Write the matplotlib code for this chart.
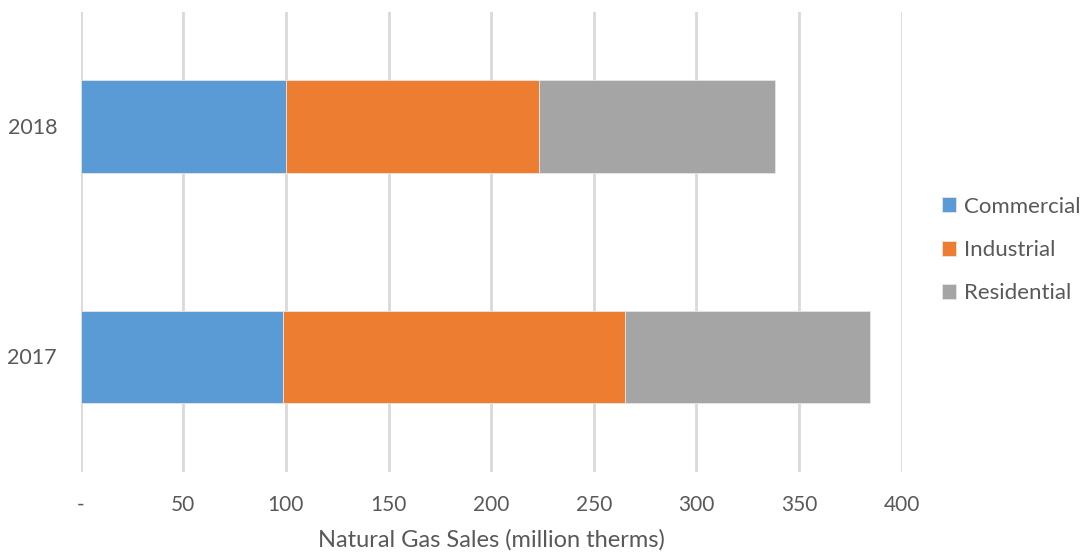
import matplotlib
matplotlib.use("Agg")
import matplotlib.pyplot as plt
from matplotlib.ticker import FixedLocator, FixedFormatter

plt.rcParams['font.family'] = ['Lato', 'DejaVu Sans']

years = ["2017", "2018"]
series_names = ["Commercial", "Industrial", "Residential"]
commercial = [98.4, 100.0]
industrial = [166.7, 123.3]
residential = [119.5, 115.2]
series_values = [commercial, industrial, residential]
colors = ["#5B9BD5", "#ED7D31", "#A5A5A5"]
tick_values = [0, 50, 100, 150, 200, 250, 300, 350, 400]
tick_labels = ["-", "50", "100", "150", "200", "250", "300", "350", "400"]

text_color = "#595959"
grid_color = "#D9D9D9"

fig = plt.figure(figsize=(10.81, 5.52), dpi=100)
ax = fig.add_axes([80.7 / 1081, 1 - 471.5 / 552, 821 / 1081, 460 / 552])

positions = list(range(len(years)))
left = [0.0] * len(years)
handles = []
for name, vals, col in zip(series_names, series_values, colors):
    h = ax.barh(positions, vals, left=left, height=0.4, color=col,
                edgecolor="#E6E6E6", linewidth=0.6, label=name, zorder=3)
    handles.append(h)
    left = [a + b for a, b in zip(left, vals)]

ax.set_xlim(0, 400)
ax.set_ylim(-0.5, 1.5)
ax.xaxis.set_major_locator(FixedLocator(tick_values))
ax.xaxis.set_major_formatter(FixedFormatter(tick_labels))
ax.set_yticks(positions)
ax.set_yticklabels(years)

ax.grid(axis="x", color=grid_color, linewidth=2, zorder=0)
ax.grid(axis="y", visible=False)
for s in ax.spines.values():
    s.set_visible(False)
ax.tick_params(axis="both", length=0, colors=text_color)
ax.tick_params(axis="x", pad=17, labelsize=15)
ax.tick_params(axis="y", pad=17, labelsize=15.5)

ax.set_xlabel("Natural Gas Sales (million therms)", color=text_color,
              fontsize=17, labelpad=10)

leg = fig.legend(handles=handles, labels=series_names,
                 loc="center left", bbox_to_anchor=(942 / 1081, 1 - 250 / 552),
                 frameon=False, fontsize=16, handlelength=0.65, handleheight=0.65,
                 handletextpad=0.35, labelspacing=1.05, borderpad=0,
                 borderaxespad=0)
for t in leg.get_texts():
    t.set_color(text_color)

fig.savefig("out.png", dpi=100)
